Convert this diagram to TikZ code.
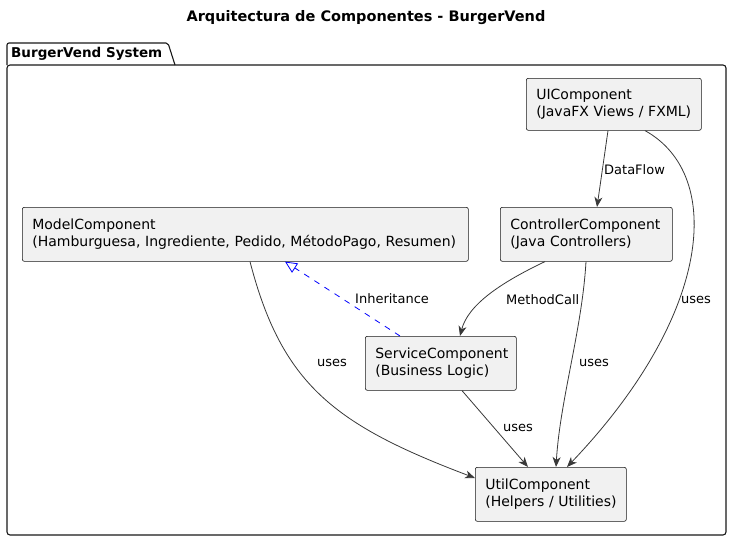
\documentclass[tikz,border=0pt]{standalone}
\usepackage{fontspec}
\setmainfont{DejaVu Sans}
\usepackage{xcolor}
\usetikzlibrary{arrows.meta, calc}
\definecolor{umlline}{RGB}{24,24,24}
\definecolor{umledge}{RGB}{56,56,56}
\definecolor{umlfill}{RGB}{241,241,241}
\definecolor{umlblue}{RGB}{0,0,255}
\tikzset{
  comp/.style={rectangle, draw=umlline, fill=umlfill, line width=0.6pt, rounded corners=2pt,
    anchor=north west, inner xsep=10pt, align=left, font=\fontsize{14}{17}\selectfont},
  dep/.style={-{Stealth[length=10pt, width=8pt, inset=3pt]}, umledge, line width=0.8pt},
  inh/.style={-{Triangle[open, length=12pt, width=11pt]}, umlblue, line width=0.8pt, dash pattern=on 6pt off 6pt},
  elbl/.style={font=\fontsize{13}{15}\selectfont, anchor=west, inner sep=1pt, text=black}
}

\begin{document}
\begin{tikzpicture}[x=1pt, y=-1pt]
  \useasboundingbox (0,0) rectangle (732,541);
  \node[font=\bfseries\fontsize{14.5}{17}\selectfont] (title) at (366,18) {Arquitectura de Componentes - BurgerVend};
  % package frame
  \draw[umlline, line width=1.1pt, rounded corners=2pt] (7,65) -- (7,43) -- (168,43) -- (175,65);
  \draw[umlline, line width=1.1pt, rounded corners=3pt] (7,65) -- (7,535) -- (726,535) -- (726,65) -- cycle;
  \node[font=\bfseries\fontsize{13.5}{16}\selectfont, anchor=west, inner sep=0pt] (pkg) at (11,54) {BurgerVend System};
  % components
  \node[comp, minimum width=175pt, minimum height=52pt, text width=155pt] (ui) at (526,78)
    {\mbox{UIComponent}\\\mbox{(JavaFX Views / FXML)}};
  \node[comp, minimum width=172pt, minimum height=54pt, text width=152pt] (ctrl) at (500,207)
    {\mbox{ControllerComponent}\\\mbox{(Java Controllers)}};
  \node[comp, minimum width=446pt, minimum height=54pt, text width=426pt] (model) at (22,207)
    {\mbox{ModelComponent}\\\mbox{(Hamburguesa, Ingrediente, Pedido, MétodoPago, Resumen)}};
  \node[comp, minimum width=151pt, minimum height=54pt, text width=131pt] (svc) at (365,336)
    {\mbox{ServiceComponent}\\\mbox{(Business Logic)}};
  \node[comp, minimum width=151pt, minimum height=54pt, text width=131pt] (util) at (475,467)
    {\mbox{UtilComponent}\\\mbox{(Helpers / Utilities)}};
  % connectors
  \draw[dep] ([xshift=82pt]ui.south west) -- ([xshift=97pt]ctrl.north west);
  \node[elbl] (lflow) at (603,170) {DataFlow};
  \draw[dep] ([xshift=119pt]ui.south west) .. controls (725,175) and (712,315) .. ([xshift=92pt]util.north west);
  \node[elbl] (luses1) at (680,300) {uses};
  \draw[dep] ([xshift=45pt]ctrl.south west) .. controls (500,283) and (468,305) .. ([xshift=95pt]svc.north west);
  \node[elbl] (lcall) at (505,300) {MethodCall};
  \draw[dep] ([xshift=86pt]ctrl.south west) .. controls (582,330) and (560,400) .. ([xshift=81pt]util.north west);
  \node[elbl] (luses2) at (578,363) {uses};
  \draw[inh] ([xshift=35pt]svc.north west) -- ([xshift=263pt]model.south west);
  \node[elbl] (linh) at (354,299) {Inheritance};
  \draw[dep] ([xshift=228pt]model.south west) .. controls (282,385) and (335,425) .. ([yshift=-11pt]util.north west);
  \node[elbl] (luses3) at (316,363) {uses};
  \draw[dep] ([xshift=97pt]svc.south west) -- ([xshift=53pt]util.north west);
  \node[elbl] (luses4) at (502,428) {uses};
\end{tikzpicture}
\end{document}
